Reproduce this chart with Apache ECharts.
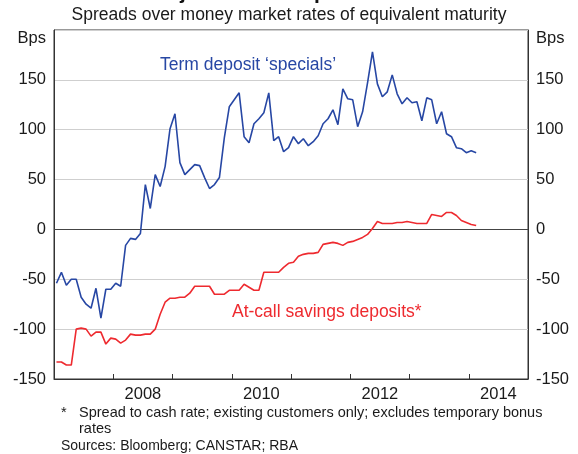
<!DOCTYPE html>
<html>
<head>
<meta charset="utf-8">
<script src="https://cdn.jsdelivr.net/npm/echarts@6/dist/echarts.min.js"></script>
<style>
  html, body { margin: 0; padding: 0; background: #fff; }
  #chart { width: 578px; height: 454px; }
</style>
</head>
<body>
<div id="chart"></div>
<script>
  // monthly observations, starting January 2007
  const startYear = 2007
  const termSpecials = [
    -54, -43, -56, -50, -50, -68, -75, -79, -59, -89, -60, -60,
    -54, -57, -16, -9, -10, -4, 45, 21, 55, 43, 63, 101,
    116, 67, 55, 60, 65, 64, 52, 41, 45, 52, 92, 123,
    130, 137, 93, 87, 106, 111, 117, 137, 89, 93, 78, 82,
    93, 86, 91, 84, 88, 94, 106, 111, 120, 105, 141, 131,
    130, 103, 118, 147, 178, 146, 133, 138, 155, 136, 126, 132,
    127, 128, 109, 132, 130, 106, 118, 96, 93, 82, 81, 77,
    79, 77
  ]
  const atCallSavings = [
    -133, -133, -136, -136, -100, -99, -100, -107, -103, -103, -115, -109,
    -110, -114, -111, -105, -106, -106, -105, -105, -100, -85, -73, -69,
    -69, -68, -68, -64, -57, -57, -57, -57, -65, -65, -65, -61,
    -61, -61, -55, -58, -61, -61, -43, -43, -43, -43, -38, -34,
    -33, -27, -25, -24, -24, -23, -15, -14, -13, -14, -16, -13,
    -12, -10, -8, -5, 1, 8, 6, 6, 6, 7, 7, 8,
    7, 6, 6, 6, 15, 14, 13, 17, 17, 14, 9, 7,
    5, 4
  ]
  const tickYears = [2007, 2008, 2009, 2010, 2011, 2012, 2013, 2014, 2015]
  const labelYears = [2008, 2010, 2012, 2014]

  const toPoints = arr => arr.map((v, i) => [startYear + (i + 0.5) / 12, v])

  const font = 'Liberation Sans, Arial, sans-serif'
  const blue = '#2747a4'
  const red = '#ee2a2f'

  const yAxisBase = {
    type: 'value',
    min: -150,
    max: 200,
    interval: 50,
    axisLine: { show: true, lineStyle: { color: '#333', width: 1 } },
    axisTick: { show: false },
    axisLabel: {
      color: '#1a1a1a',
      fontFamily: font,
      fontSize: 16.5,
      margin: 8,
      showMinLabel: true,
      showMaxLabel: true,
      formatter: v => v === 200 ? '{b|Bps}' : String(v),
      rich: { b: { fontFamily: font, fontSize: 16.5, color: '#1a1a1a', padding: [16, 0, 0, 0] } }
    }
  }

  const myChart = echarts.init(document.getElementById('chart'), null, { renderer: 'canvas' })
  myChart.setOption({
    animation: false,
    grid: {
      left: 54,
      right: 50,
      top: 30,
      bottom: 75,
      show: true,
      borderColor: '#333',
      borderWidth: 1
    },
    xAxis: {
      type: 'value',
      min: 2007,
      max: 2015,
      interval: 1,
      axisLine: { onZero: false, lineStyle: { color: '#333', width: 1 } },
      axisTick: { inside: true, length: 5, customValues: tickYears, lineStyle: { color: '#333' } },
      axisLabel: {
        customValues: labelYears.map(y => y + 0.5),
        formatter: v => String(Math.floor(v)),
        color: '#1a1a1a',
        fontFamily: font,
        fontSize: 16.5,
        margin: 7
      },
      splitLine: { show: false }
    },
    yAxis: [
      Object.assign({}, yAxisBase, {
        position: 'left',
        splitLine: { show: true, lineStyle: { color: '#cfcfcf', width: 1 } }
      }),
      Object.assign({}, yAxisBase, {
        position: 'right',
        splitLine: { show: false }
      })
    ],
    series: [
      {
        name: 'Term deposit specials',
        type: 'line',
        data: toPoints(termSpecials),
        showSymbol: false,
        lineStyle: { color: blue, width: 1.6 },
        itemStyle: { color: blue },
        z: 3,
        markLine: {
          silent: true,
          symbol: 'none',
          label: { show: false },
          lineStyle: { color: '#444', width: 1, type: 'solid' },
          data: [{ yAxis: 0 }],
          z: 2
        }
      },
      {
        name: 'At-call savings deposits',
        type: 'line',
        data: toPoints(atCallSavings),
        showSymbol: false,
        lineStyle: { color: red, width: 1.6 },
        itemStyle: { color: red },
        z: 3
      }
    ],
    graphic: [
      {
        type: 'text', left: 'center', top: -17,
        style: { text: 'Major Banks\u2019 Deposit Rates', font: 'bold 21px ' + font, fill: '#111' }
      },
      {
        type: 'text', left: 'center', top: 6,
        style: { text: 'Spreads over money market rates of equivalent maturity', font: '17.5px ' + font, fill: '#1a1a1a' }
      },
      {
        type: 'text', left: 160, top: 56,
        style: { text: 'Term deposit \u2018specials\u2019', font: '17.5px ' + font, fill: blue }
      },
      {
        type: 'text', left: 232, top: 303,
        style: { text: 'At-call savings deposits*', font: '17.5px ' + font, fill: red }
      },
      {
        type: 'text', left: 61, top: 405,
        style: { text: '*', font: '14.5px ' + font, fill: '#1a1a1a' }
      },
      {
        type: 'text', left: 79, top: 405,
        style: { text: 'Spread to cash rate; existing customers only; excludes temporary bonus\nrates', font: '14.5px ' + font, fill: '#1a1a1a', lineHeight: 16 }
      },
      {
        type: 'text', left: 61, top: 439,
        style: { text: 'Sources: Bloomberg; CANSTAR; RBA', font: '14px ' + font, fill: '#1a1a1a' }
      }
    ]
  })
</script>
</body>
</html>
